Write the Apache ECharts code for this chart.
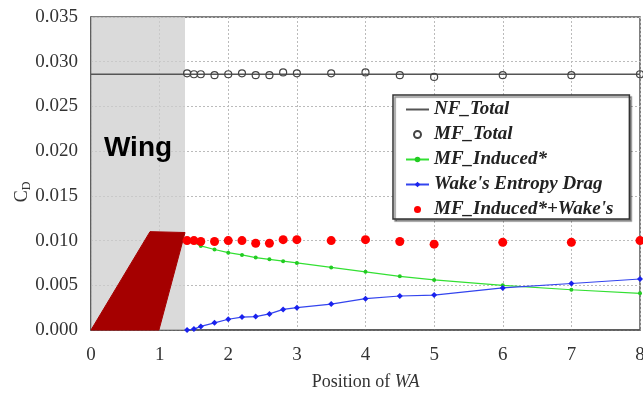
<!DOCTYPE html>
<html>
<head>
<meta charset="utf-8">
<script src="https://cdn.jsdelivr.net/npm/echarts@6/dist/echarts.min.js"></script>
<style>
  html, body { margin: 0; padding: 0; background: #fff; }
  #chart { width: 643px; height: 393px; }
</style>
</head>
<body>
<div id="chart"></div>
<script>
// Positions of the wake analysis plane (WA)
var positions = [1.4, 1.5, 1.6, 1.8, 2.0, 2.2, 2.4, 2.6, 2.8, 3.0, 3.5, 4.0, 4.5, 5, 6, 7, 8];

// Near-field total drag (constant)
var nfTotalX = [0, 8];
var nfTotal = [0.0286, 0.0286];

// Mid-field drag components
var mfTotal = [0.0287, 0.0286, 0.0286, 0.0285, 0.0286, 0.0287, 0.0285, 0.0285, 0.0288, 0.0287, 0.0287, 0.0288, 0.0285, 0.0283, 0.0285, 0.0285, 0.0286];
var mfInduced = [0.0100, 0.0098, 0.0094, 0.0090, 0.00865, 0.0084, 0.0081, 0.0079, 0.0077, 0.0075, 0.0070, 0.0065, 0.0060, 0.0056, 0.0050, 0.0045, 0.0041];
var wakeEntropy = [0.0000, 0.0001, 0.0004, 0.0008, 0.0012, 0.00145, 0.0015, 0.0018, 0.0023, 0.0025, 0.0029, 0.0035, 0.0038, 0.0039, 0.0047, 0.0052, 0.0057];
var inducedPlusWake = [0.0100, 0.0100, 0.0099, 0.0099, 0.0100, 0.0100, 0.0097, 0.0097, 0.0101, 0.0101, 0.0100, 0.0101, 0.0099, 0.0096, 0.0098, 0.0098, 0.0100];

// Wing planform sketch and shaded wing region
var wingX = [0, 0.86, 1.37, 0.99];
var wingY = [0, 0.011, 0.0109, 0];
var wingRegion = [0, 1.37];

var xTicks = [0, 1, 2, 3, 4, 5, 6, 7, 8];
var yTicks = [0, 0.005, 0.010, 0.015, 0.020, 0.025, 0.030, 0.035];

function pairs(xs, ys) {
  return xs.map(function (x, i) { return [x, ys[i]]; });
}

var serif = '"Liberation Serif", "Times New Roman", serif';
var chart = echarts.init(document.getElementById('chart'));

chart.setOption({
  animation: false,
  grid: {
    left: 91, top: 17, right: 3, bottom: 63,
    outerBoundsMode: 'none',
    containLabel: false,
    show: true, borderColor: '#555', borderWidth: 1.5
  },
  xAxis: {
    type: 'value',
    min: xTicks[0], max: xTicks[xTicks.length - 1], interval: 1,
    name: '{n|Position of }{i|WA}',
    nameLocation: 'middle', nameGap: 43,
    nameTextStyle: {
      rich: {
        n: { fontFamily: serif, fontSize: 18, color: '#333' },
        i: { fontFamily: serif, fontSize: 18, color: '#333', fontStyle: 'italic' }
      }
    },
    axisLine: { show: true, lineStyle: { color: '#555', width: 1.5 } },
    axisTick: { show: false },
    axisLabel: { fontFamily: serif, fontSize: 19, color: '#333', margin: 16 },
    splitLine: { show: true, lineStyle: { color: '#bbb', type: [2, 2], width: 1 } }
  },
  yAxis: {
    type: 'value',
    min: yTicks[0], max: yTicks[yTicks.length - 1], interval: 0.005,
    axisLine: { show: true, lineStyle: { color: '#555', width: 1.5 } },
    axisTick: { show: false },
    axisLabel: {
      fontFamily: serif, fontSize: 19, color: '#333', margin: 13,
      formatter: function (v) { return v.toFixed(3); }
    },
    splitLine: { show: true, lineStyle: { color: '#bbb', type: [2, 2], width: 1 } }
  },
  graphic: [{
    type: 'text',
    x: 22, y: 192,
    rotation: Math.PI / 2,
    style: {
      text: '{c|C}{d|D}',
      align: 'center', verticalAlign: 'middle',
      rich: {
        c: { fontFamily: serif, fontSize: 18, fill: '#333' },
        d: { fontFamily: serif, fontSize: 12, fill: '#333', padding: [10, 0, 0, 0] }
      }
    }
  }],
  legend: {
    orient: 'vertical',
    left: 393, top: 95,
    padding: [5, 16, 0, 12],
    itemGap: 6,
    itemWidth: 23, itemHeight: 7,
    backgroundColor: '#fff',
    borderColor: '#333', borderWidth: 1.5,
    shadowColor: 'rgba(0,0,0,0.45)', shadowOffsetX: 2, shadowOffsetY: 2, shadowBlur: 1,
    textStyle: { fontFamily: serif, fontSize: 19, fontWeight: 'bold', fontStyle: 'italic', color: '#222' },
    data: [
      { name: 'NF_Total', itemStyle: { opacity: 0 } },
      'MF_Total', 'MF_Induced*', "Wake's Entropy Drag", "MF_Induced*+Wake's"
    ]
  },
  series: [
    {
      name: 'region',
      type: 'line',
      data: [],
      z: 1,
      silent: true,
      markArea: {
        silent: true,
        itemStyle: { color: 'rgba(205,205,205,0.75)' },
        label: {
          show: true,
          position: ['50%', '42%'],
          align: 'center', verticalAlign: 'middle',
          formatter: 'Wing',
          fontFamily: '"Liberation Sans", Arial, sans-serif',
          fontSize: 28, fontWeight: 'bold', color: '#000'
        },
        data: [[{ xAxis: wingRegion[0] }, { xAxis: wingRegion[1] }]]
      }
    },
    {
      name: 'wing',
      type: 'custom',
      z: 2,
      silent: true,
      data: [0],
      renderItem: function (params, api) {
        var pts = wingX.map(function (x, i) { return api.coord([x, wingY[i]]); });
        return {
          type: 'polygon',
          shape: { points: pts },
          style: { fill: '#a50000', stroke: '#a50000', lineWidth: 1 }
        };
      }
    },
    {
      name: 'NF_Total',
      type: 'line',
      data: pairs(nfTotalX, nfTotal),
      showSymbol: false,
      symbol: 'circle',
      lineStyle: { color: '#555', width: 1.5 },
      itemStyle: { color: '#555' },
      z: 3
    },
    {
      name: 'MF_Total',
      type: 'scatter',
      data: pairs(positions, mfTotal),
      symbol: 'circle',
      symbolSize: 7,
      itemStyle: { color: 'rgba(255,255,255,0)', borderColor: '#444', borderWidth: 1.2, opacity: 1 },
      z: 4
    },
    {
      name: 'MF_Induced*',
      type: 'line',
      data: pairs(positions, mfInduced),
      symbol: 'circle',
      symbolSize: 4,
      lineStyle: { color: '#33e033', width: 1.2 },
      itemStyle: { color: '#22cc22' },
      z: 4
    },
    {
      name: "Wake's Entropy Drag",
      type: 'line',
      data: pairs(positions, wakeEntropy),
      symbol: 'diamond',
      symbolSize: 6,
      lineStyle: { color: '#3344ee', width: 1.2 },
      itemStyle: { color: '#1a22ee' },
      z: 4
    },
    {
      name: "MF_Induced*+Wake's",
      type: 'scatter',
      data: pairs(positions, inducedPlusWake),
      symbol: 'circle',
      symbolSize: 9,
      itemStyle: { color: '#ff0000', opacity: 1 },
      z: 5
    }
  ]
});
</script>
</body>
</html>
